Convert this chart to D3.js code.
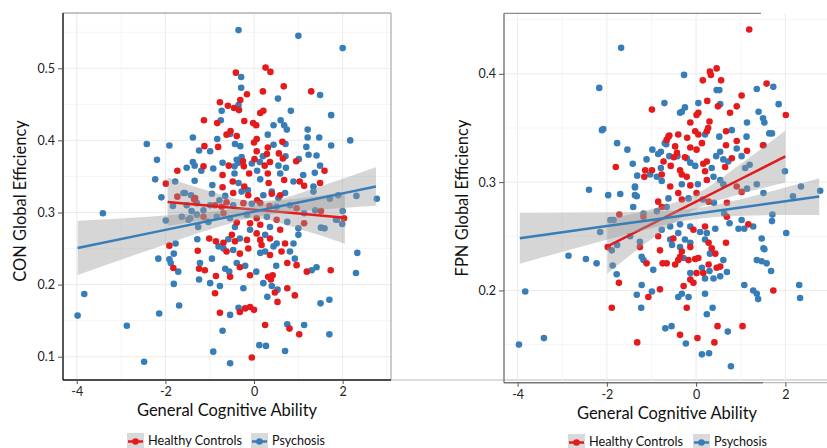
<!DOCTYPE html>
<html>
<head>
<meta charset="utf-8">
<script src="https://cdn.jsdelivr.net/npm/d3@7"></script>
<style>
  body { margin: 0; background: #fff; }
  svg { display: block; font-family: Lato, "Open Sans", sans-serif; }
</style>
</head>
<body>
<svg id="chart" width="827" height="448"></svg>
<script>
const groups = ['Healthy Controls', 'Psychosis'];
const groupColors = ['#e41a1c', '#377eb8'];
const legendWidths = [94, 53];
const xTicks = [-4, -2, 0, 2];
const xMinor = [-3, -1, 1, 3];
const conTicks = [0.1, 0.2, 0.3, 0.4, 0.5];
const conMinor = [0.15, 0.25, 0.35, 0.45, 0.55];
const fpnTicks = [0.2, 0.3, 0.4];
const fpnMinor = [0.15, 0.25, 0.35, 0.45];

// CON global efficiency vs cognitive ability, [ability, efficiency]
const conHC = [
  [-0.41,0.494],[0.26,0.501],[0.37,0.495],[-0.16,0.464],[0.20,0.468],[0.67,0.475],[1.29,0.468],[-0.77,0.453],
  [-0.59,0.448],[-0.45,0.445],[-0.31,0.456],[-0.34,0.442],[0.14,0.438],[0.21,0.441],[-1.13,0.428],[-0.83,0.424],
  [-0.22,0.427],[-0.02,0.424],[0.05,0.421],[-0.53,0.413],[-0.62,0.408],[-0.39,0.406],[0.06,0.402],[0.0,0.397],
  [0.64,0.398],[-1.12,0.392],[-0.81,0.391],[0.31,0.390],[0.06,0.385],[0.29,0.381],[0.56,0.382],[0.65,0.375],
  [0.01,0.374],[-0.25,0.371],[-1.14,0.364],[-0.57,0.365],[-0.23,0.364],[0.24,0.365],[0.36,0.370],[0.95,0.371],
  [1.59,0.358],[-0.71,0.352],[-0.11,0.354],[0.31,0.354],[-0.71,0.335],[-0.48,0.343],[-0.22,0.336],[0.33,0.341],
  [0.59,0.324],[0.68,0.345],[1.03,0.343],[1.13,0.337],[1.49,0.341],[1.51,0.302],[2.03,0.292],[1.73,0.220],
  [-1.73,0.358],[-1.99,0.340],[-1.73,0.322],[-1.35,0.318],[-1.91,0.254],[-1.27,0.247],[-1.82,0.223],[-1.24,0.222],
  [-1.33,0.320],[-0.47,0.327],[-0.13,0.324],[0.07,0.317],[0.40,0.326],[-0.88,0.310],[-0.73,0.308],[-0.62,0.314],
  [-0.24,0.313],[0.14,0.313],[0.35,0.309],[0.96,0.306],[-1.14,0.294],[-0.69,0.299],[-0.39,0.286],[-0.09,0.285],
  [0.06,0.292],[0.51,0.290],[1.13,0.285],[0.14,0.283],[0.59,0.276],[-1.01,0.264],[-0.86,0.260],[-0.69,0.258],
  [-0.50,0.269],[-0.43,0.260],[-0.16,0.262],[0.06,0.271],[0.14,0.262],[0.17,0.255],[0.36,0.264],[0.70,0.257],
  [-0.62,0.246],[-0.32,0.243],[-0.13,0.250],[0.36,0.241],[0.62,0.246],[0.75,0.230],[0.96,0.227],[1.19,0.218],
  [-1.11,0.220],[-0.32,0.224],[-0.09,0.213],[0.32,0.211],[0.38,0.207],[0.42,0.213],[0.47,0.189],[0.75,0.195],
  [0.92,0.185],[-0.88,0.188],[-0.86,0.212],[-0.54,0.211],[0.53,0.176],[-0.32,0.162],[-0.20,0.167],[-0.09,0.169],
  [0.0,0.165],[-0.77,0.161],[0.25,0.144],[0.80,0.139],[1.02,0.131],[-0.05,0.099]
];
const conPsy = [
  [-0.35,0.553],[1.0,0.545],[2.0,0.528],[-0.29,0.488],[-0.29,0.473],[1.49,0.463],[0.54,0.458],[-0.35,0.449],
  [-0.73,0.441],[0.83,0.441],[1.74,0.435],[-0.75,0.428],[0.44,0.421],[0.60,0.428],[0.68,0.421],[0.74,0.415],
  [1.21,0.415],[-1.38,0.404],[-0.54,0.409],[-0.83,0.402],[0.31,0.408],[0.71,0.395],[1.21,0.404],[1.47,0.404],
  [2.17,0.400],[-0.43,0.395],[-0.31,0.392],[0.44,0.394],[1.18,0.391],[1.74,0.393],[-1.24,0.386],[-0.99,0.385],
  [1.23,0.380],[1.41,0.379],[0.20,0.378],[0.71,0.378],[-0.28,0.377],[-0.39,0.373],[-0.35,0.369],[-1.52,0.362],
  [-1.38,0.370],[-1.34,0.365],[-1.19,0.358],[-0.92,0.361],[-0.71,0.369],[-0.44,0.364],[-0.05,0.368],[0.13,0.370],
  [0.55,0.365],[0.59,0.354],[0.72,0.362],[1.01,0.374],[1.49,0.365],[1.37,0.355],[-1.34,0.344],[-0.44,0.354],
  [0.07,0.358],[1.11,0.352],[-0.94,0.338],[-0.35,0.341],[-0.14,0.331],[0.14,0.346],[0.40,0.329],[0.89,0.343],
  [1.34,0.336],[2.31,0.323],[1.71,0.319],[1.90,0.324],[2.77,0.319],[2.0,0.302],[1.85,0.290],[1.99,0.284],
  [1.51,0.279],[1.59,0.278],[2.33,0.244],[2.30,0.216],[1.50,0.174],[1.70,0.179],[1.70,0.131],[-2.42,0.395],
  [-1.91,0.393],[-2.19,0.373],[-2.23,0.346],[-1.78,0.343],[-2.09,0.321],[-1.56,0.327],[-3.41,0.299],[-1.83,0.309],
  [-1.41,0.302],[-1.99,0.289],[-1.44,0.292],[-1.26,0.280],[-1.28,0.263],[-1.77,0.257],[-1.81,0.243],[-2.16,0.236],
  [-1.91,0.235],[-1.88,0.230],[-1.71,0.218],[-1.24,0.207],[-1.81,0.201],[-3.83,0.187],[-1.69,0.171],[-3.98,0.157],
  [-2.14,0.160],[-2.87,0.143],[-2.48,0.093],[-1.59,0.327],[-1.42,0.324],[-0.95,0.326],[-0.78,0.317],[-0.65,0.323],
  [-0.28,0.329],[0.21,0.324],[0.55,0.320],[0.70,0.327],[1.34,0.329],[-1.52,0.310],[-1.29,0.313],[-1.14,0.303],
  [-0.99,0.310],[-0.47,0.310],[-0.05,0.312],[0.51,0.308],[0.81,0.310],[1.13,0.299],[1.38,0.303],[1.87,0.290],
  [-1.63,0.294],[-1.48,0.290],[-1.29,0.297],[-1.03,0.287],[-0.84,0.294],[-0.54,0.292],[-0.16,0.297],[0.29,0.294],
  [0.75,0.287],[-0.43,0.280],[0.36,0.280],[-0.09,0.276],[1.0,0.278],[-0.80,0.253],[-0.58,0.263],[-0.32,0.264],
  [0.25,0.269],[0.51,0.257],[0.89,0.257],[1.0,0.269],[-0.69,0.250],[-0.47,0.248],[0.14,0.244],[0.25,0.246],
  [0.44,0.253],[0.81,0.246],[0.92,0.236],[1.30,0.220],[1.41,0.224],[-1.22,0.230],[-0.95,0.236],[-0.65,0.222],
  [-0.56,0.218],[-0.39,0.230],[-0.20,0.226],[0.05,0.218],[0.50,0.226],[0.21,0.202],[0.40,0.198],[0.53,0.193],
  [0.30,0.183],[-0.24,0.195],[-0.77,0.198],[-0.99,0.202],[-0.35,0.168],[-0.54,0.158],[0.75,0.145],[1.13,0.144],
  [-0.71,0.136],[-0.92,0.107],[-0.54,0.091],[0.12,0.116],[0.27,0.115],[0.70,0.108]
];

// FPN global efficiency vs cognitive ability
const fpnHC = [
  [0.46,0.405],[0.31,0.402],[0.33,0.399],[0.56,0.394],[0.15,0.394],[1.58,0.391],[1.02,0.380],[0.25,0.375],
  [-0.99,0.367],[0.76,0.364],[0.91,0.370],[0.01,0.362],[0.05,0.364],[-0.13,0.355],[0.30,0.356],[-0.02,0.347],
  [0.05,0.344],[0.24,0.347],[0.67,0.347],[-0.60,0.343],[-0.66,0.339],[-0.20,0.341],[0.13,0.336],[0.91,0.338],
  [-0.47,0.333],[-0.13,0.332],[0.01,0.330],[0.67,0.334],[-0.43,0.327],[-0.25,0.323],[-1.80,0.314],[-1.14,0.311],
  [-0.99,0.311],[-0.73,0.319],[-0.57,0.315],[-0.36,0.311],[0.16,0.317],[0.24,0.319],[0.65,0.314],[0.80,0.322],
  [-1.16,0.305],[-0.77,0.307],[-0.32,0.307],[-0.21,0.305],[-0.58,0.296],[-0.13,0.297],[0.24,0.302],[0.91,0.296],
  [1.02,0.291],[-0.85,0.282],[-0.77,0.277],[-0.32,0.284],[0.01,0.290],[0.28,0.282],[0.69,0.281],[0.69,0.268],
  [1.17,0.261],[-1.18,0.268],[-1.72,0.270],[-0.85,0.250],[-0.51,0.248],[-0.06,0.256],[0.20,0.259],[0.28,0.244],
  [0.35,0.239],[0.43,0.234],[0.67,0.244],[-0.13,0.240],[-0.32,0.236],[-0.81,0.237],[-1.26,0.240],[-1.11,0.225],
  [-0.75,0.225],[-0.66,0.225],[-0.47,0.224],[-0.40,0.228],[-0.36,0.231],[-0.17,0.228],[-0.02,0.229],[0.05,0.230],
  [0.01,0.216],[0.16,0.216],[0.28,0.224],[0.46,0.221],[0.54,0.222],[-0.13,0.210],[-0.06,0.207],[-0.81,0.201],
  [-1.07,0.194],[-1.89,0.184],[-0.21,0.184],[1.19,0.441],[0.49,0.370],[2.01,0.362],[0.27,0.350],[-0.40,0.344],
  [-0.62,0.342],[1.50,0.334],[-0.50,0.323],[0.20,0.310],[1.14,0.329],[-0.40,0.290],[1.73,0.200],[1.04,0.167],
  [0.48,0.167],[0.41,0.152],[0.03,0.156],[-0.36,0.159],[-1.32,0.152],[-0.28,0.204],[-1.98,0.240],[-1.73,0.207]
];
const fpnPsy = [
  [-1.68,0.424],[-2.17,0.387],[-2.11,0.348],[-2.08,0.349],[-1.77,0.336],[-1.54,0.330],[-1.42,0.317],[-1.32,0.306],
  [-2.40,0.293],[-1.97,0.288],[-1.70,0.289],[-1.37,0.295],[-1.37,0.288],[-0.27,0.399],[1.36,0.386],[0.46,0.385],
  [0.05,0.373],[-0.71,0.373],[0.54,0.372],[-0.32,0.365],[-0.36,0.364],[1.40,0.365],[1.50,0.359],[1.14,0.355],
  [0.20,0.344],[0.80,0.348],[1.64,0.345],[0.52,0.342],[-0.70,0.336],[1.13,0.342],[-0.98,0.330],[-0.79,0.328],
  [0.91,0.331],[1.51,0.334],[-0.42,0.324],[-1.11,0.321],[-0.79,0.313],[-0.60,0.324],[-0.13,0.318],[-0.02,0.315],
  [0.35,0.313],[0.61,0.321],[0.72,0.319],[1.02,0.324],[1.10,0.313],[1.20,0.316],[-1.03,0.307],[-0.88,0.305],
  [-0.77,0.301],[-0.32,0.298],[0.04,0.298],[0.39,0.305],[0.54,0.302],[0.61,0.298],[1.14,0.294],[1.36,0.298],
  [1.51,0.290],[-1.37,0.296],[-1.33,0.287],[-1.41,0.277],[-0.62,0.285],[-0.88,0.273],[-0.66,0.277],[-0.17,0.285],
  [0.15,0.284],[0.40,0.281],[0.63,0.271],[0.75,0.262],[1.02,0.265],[1.28,0.259],[0.95,0.257],[1.08,0.257],
  [1.47,0.248],[1.51,0.239],[1.36,0.228],[1.47,0.227],[1.58,0.225],[-1.18,0.271],[-1.85,0.265],[-2.15,0.254],
  [-1.48,0.250],[-1.26,0.245],[-0.77,0.256],[-0.58,0.259],[-0.40,0.253],[-0.36,0.261],[-0.25,0.247],[-0.13,0.259],
  [0.09,0.254],[0.24,0.253],[0.20,0.247],[0.43,0.257],[0.31,0.234],[-0.13,0.244],[-0.36,0.240],[-0.58,0.247],
  [-0.54,0.242],[-1.22,0.231],[-1.18,0.228],[-2.23,0.225],[-0.96,0.219],[-0.28,0.230],[-0.13,0.216],[0.13,0.221],
  [0.30,0.218],[0.61,0.228],[0.69,0.217],[0.54,0.213],[0.20,0.211],[0.39,0.211],[-1.22,0.205],[-0.99,0.199],
  [-1.33,0.196],[-0.40,0.194],[-0.32,0.197],[-0.17,0.194],[0.20,0.197],[1.08,0.205],[1.28,0.200],[1.36,0.197],
  [-1.23,0.184],[0.24,0.178],[0.37,0.184],[0.52,0.385],[1.73,0.388],[-0.25,0.369],[1.85,0.372],[1.53,0.355],
  [-0.67,0.335],[1.70,0.345],[-0.85,0.326],[-0.21,0.322],[0.45,0.324],[0.54,0.328],[1.99,0.310],[2.35,0.296],
  [2.17,0.287],[2.78,0.292],[2.02,0.253],[1.71,0.270],[1.70,0.264],[1.53,0.238],[1.68,0.218],[2.31,0.205],
  [2.33,0.193],[1.39,0.192],[0.71,0.162],[0.13,0.141],[0.29,0.142],[0.78,0.130],[-0.23,0.151],[-0.69,0.165],
  [-0.55,0.167],[-1.92,0.265],[-1.89,0.237],[-1.77,0.242],[-2.86,0.232],[-2.47,0.229],[-1.87,0.223],[-1.78,0.215],
  [-3.83,0.199],[-3.41,0.156],[-3.97,0.150]
];

// fitted lines with confidence band, [ability, fit, lower, upper]
const conHCFit = [[-1.95,0.3147,0.2810,0.3484],[-1,0.3095,0.2895,0.3295],[0,0.3040,0.2920,0.3160],[1,0.2985,0.2775,0.3195],[2.05,0.2927,0.2567,0.3287]];
const conPsyFit = [[-3.98,0.2509,0.2134,0.2884],[-2,0.2759,0.2558,0.2960],[-1,0.2886,0.2764,0.3008],[0,0.3012,0.2932,0.3092],[1,0.3139,0.3017,0.3261],[2,0.3265,0.3063,0.3467],[2.75,0.3360,0.3093,0.3627]];
const fpnHCFit = [[-1.99,0.2407,0.2157,0.2657],[-1,0.2613,0.2474,0.2752],[0,0.2821,0.2751,0.2891],[1,0.3029,0.2890,0.3168],[2,0.3237,0.2997,0.3477]];
const fpnPsyFit = [[-3.95,0.2482,0.2247,0.2717],[-2,0.2594,0.2467,0.2721],[-1,0.2651,0.2574,0.2728],[0,0.2709,0.2659,0.2759],[1,0.2766,0.2689,0.2843],[2,0.2824,0.2697,0.2951],[2.76,0.2867,0.2697,0.3037]];

const svg = d3.select('#chart');

function drawPanel(p) {
  const x = d3.scaleLinear().domain(p.xDomain).range([p.left, p.right]);
  const y = d3.scaleLinear().domain(p.yDomain).range([p.bottom, p.top]);
  const clipW = Math.min(p.right, 827) - p.left;

  svg.append('clipPath').attr('id', 'clip-' + p.id)
    .append('rect')
    .attr('x', p.left).attr('y', p.top)
    .attr('width', clipW).attr('height', p.bottom - p.top);

  const g = svg.append('g');
  const plot = g.append('g').attr('clip-path', `url(#clip-${p.id})`);

  // grid lines (minor first, then major)
  plot.selectAll('.vminor').data(xMinor).join('line')
    .attr('x1', d => x(d)).attr('x2', d => x(d))
    .attr('y1', p.top).attr('y2', p.bottom)
    .attr('stroke', '#f3f3f3').attr('stroke-width', 0.8);
  plot.selectAll('.hminor').data(p.yMinor).join('line')
    .attr('x1', p.left).attr('x2', p.right)
    .attr('y1', d => y(d)).attr('y2', d => y(d))
    .attr('stroke', '#f3f3f3').attr('stroke-width', 0.8);
  plot.selectAll('.vmajor').data(xTicks).join('line')
    .attr('x1', d => x(d)).attr('x2', d => x(d))
    .attr('y1', p.top).attr('y2', p.bottom)
    .attr('stroke', '#ebebeb').attr('stroke-width', 1);
  plot.selectAll('.hmajor').data(p.yTicks).join('line')
    .attr('x1', p.left).attr('x2', p.right)
    .attr('y1', d => y(d)).attr('y2', d => y(d))
    .attr('stroke', '#ebebeb').attr('stroke-width', 1);

  // points
  [p.psy, p.hc].forEach((pts, i) => {
    plot.append('g').selectAll('circle').data(pts).join('circle')
      .attr('cx', d => x(d[0]))
      .attr('cy', d => y(d[1]))
      .attr('r', 3.3)
      .attr('fill', groupColors[1 - i]);
  });

  // confidence bands + fit lines, controls first then psychosis
  const band = d3.area()
    .x(d => x(d[0])).y0(d => y(d[2])).y1(d => y(d[3]))
    .curve(d3.curveMonotoneX);
  const fit = d3.line().x(d => x(d[0])).y(d => y(d[1]));
  [p.hcFit, p.psyFit].forEach((f, i) => {
    plot.append('path').datum(f).attr('d', band)
      .attr('fill', '#999').attr('fill-opacity', 0.4);
    plot.append('path').datum(f).attr('d', fit)
      .attr('fill', 'none').attr('stroke', groupColors[i]).attr('stroke-width', 2.5);
  });

  // frame
  g.append('line').attr('x1', p.left).attr('x2', p.topEnd)
    .attr('y1', p.top).attr('y2', p.top)
    .attr('stroke', '#8c8c8c').attr('stroke-width', 1.2);
  if (p.right <= 827) {
    g.append('line').attr('x1', p.right).attr('x2', p.right)
      .attr('y1', p.top).attr('y2', p.bottom)
      .attr('stroke', '#aaa').attr('stroke-width', 1.2);
  }
  g.append('line').attr('x1', p.left).attr('x2', p.left)
    .attr('y1', p.top).attr('y2', p.bottom)
    .attr('stroke', p.axisColor).attr('stroke-width', 1.4);
  g.append('line').attr('x1', p.left).attr('x2', p.bottomEnd)
    .attr('y1', p.bottom).attr('y2', p.bottom)
    .attr('stroke', p.axisColor).attr('stroke-width', 1.4);
  if (p.bottomEnd < 827) {
    g.append('line').attr('x1', p.bottomEnd).attr('x2', 827)
      .attr('y1', p.bottom).attr('y2', p.bottom)
      .attr('stroke', '#bbb').attr('stroke-width', 1.2);
  }

  // axes
  const yAxis = g.append('g')
    .attr('transform', `translate(${p.left},0)`)
    .call(d3.axisLeft(y).tickValues(p.yTicks).tickSize(5).tickPadding(3).tickFormat(d3.format('.1f')));
  const xAxis = g.append('g')
    .attr('transform', `translate(0,${p.bottom})`)
    .call(d3.axisBottom(x).tickValues(xTicks).tickSize(4).tickPadding(3).tickFormat(d => String(d)));
  [yAxis, xAxis].forEach(a => {
    a.select('.domain').remove();
    a.selectAll('.tick line').attr('stroke', '#555');
    a.selectAll('.tick text').attr('fill', '#222')
      .style('font-size', '12.5px').style('font-family', 'Lato, sans-serif');
  });

  // axis titles
  g.append('text')
    .attr('x', (p.left + p.right0) / 2).attr('y', p.xTitleY)
    .attr('text-anchor', 'middle')
    .style('font-size', '16.5px').attr('fill', '#111')
    .text('General Cognitive Ability');
  g.append('text')
    .attr('transform', `translate(${p.yTitleX},${p.yTitleMid}) rotate(-90)`)
    .attr('text-anchor', 'middle')
    .style('font-size', '16.5px').attr('fill', '#111')
    .text(p.yTitle);

  // legend
  const lg = g.append('g').attr('transform', `translate(${p.legendX},${p.legendY})`);
  const items = lg.selectAll('g').data(groups).join('g')
    .attr('transform', (d, i) => `translate(${i === 0 ? 0 : p.legendGap},0)`);
  items.append('rect').attr('width', 17).attr('height', 17).attr('fill', '#d9d9d9');
  items.append('line').attr('x1', 1).attr('x2', 16).attr('y1', 8.5).attr('y2', 8.5)
    .attr('stroke', (d, i) => groupColors[i]).attr('stroke-width', 2.5);
  items.append('circle').attr('cx', 8.5).attr('cy', 8.5).attr('r', 3.3)
    .attr('fill', (d, i) => groupColors[i]);
  items.append('text').attr('x', 21).attr('y', 12)
    .style('font-size', '14px').attr('fill', '#111')
    .attr('textLength', (d, i) => legendWidths[i])
    .attr('lengthAdjust', 'spacingAndGlyphs')
    .text(d => d);
}

drawPanel({
  id: 'con', left: 63, right: 391, right0: 391, top: 13, bottom: 380,
  topEnd: 391, bottomEnd: 391, axisColor: '#111',
  xDomain: [-4.31, 3.09], yDomain: [0.0677, 0.5767],
  yTicks: conTicks, yMinor: conMinor, yTitle: 'CON Global Efficiency',
  hc: conHC, psy: conPsy, hcFit: conHCFit, psyFit: conPsyFit,
  xTitleY: 416, yTitleX: 26, yTitleMid: 201,
  legendX: 127, legendY: 433, legendGap: 124
});

drawPanel({
  id: 'fpn', left: 504, right: 834, right0: 830, top: 13.3, bottom: 382.7,
  topEnd: 761, bottomEnd: 763, axisColor: '#777',
  xDomain: [-4.305, 3.09], yDomain: [0.1148, 0.4559],
  yTicks: fpnTicks, yMinor: fpnMinor, yTitle: 'FPN Global Efficiency',
  hc: fpnHC, psy: fpnPsy, hcFit: fpnHCFit, psyFit: fpnPsyFit,
  xTitleY: 418.5, yTitleX: 468, yTitleMid: 198,
  legendX: 568, legendY: 434, legendGap: 125
});
</script>
</body>
</html>
